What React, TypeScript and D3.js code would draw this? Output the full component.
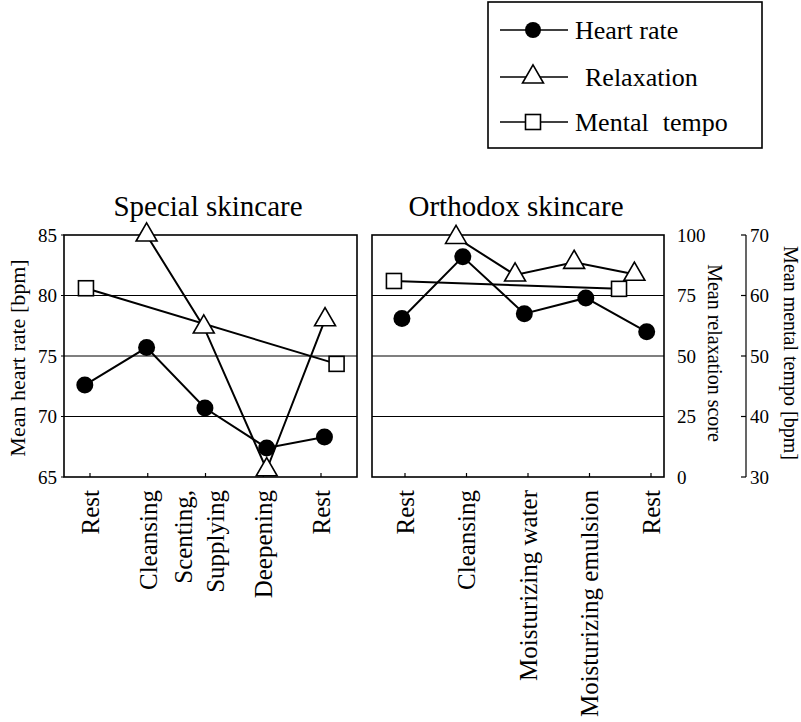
import { useRef, useEffect } from 'react';
import * as d3 from 'd3';

const specialSteps = ['Rest', 'Cleansing', 'Scenting,|Supplying', 'Deepening', 'Rest'];
const orthodoxSteps = ['Rest', 'Cleansing', 'Moisturizing water', 'Moisturizing emulsion', 'Rest'];

// heart rate [bpm], with step position (markers sit a little off the ticks)
const specialHeart = [72.6, 75.7, 70.7, 67.4, 68.3];
const specialHeartAt = [-0.09, 0.98, 1.99, 3.06, 4.06];
const orthodoxHeart = [78.1, 83.2, 78.5, 79.8, 77.0];
const orthodoxHeartAt = [-0.05, 0.94, 1.94, 2.94, 3.93];

// relaxation score
const specialRelax = [100, 62, 3, 65];
const specialRelaxAt = [0.98, 1.97, 3.06, 4.07];
const orthodoxRelax = [99, 83.5, 88.7, 83.8];
const orthodoxRelaxAt = [0.83, 1.79, 2.75, 3.73];

// mental tempo [bpm]
const specialTempo = [61.2, 48.7];
const specialTempoAt = [-0.07, 4.27];
const orthodoxTempo = [62.4, 61.1];
const orthodoxTempoAt = [-0.18, 3.48];

const heartTicks = [85, 80, 75, 70, 65];
const relaxTicks = [100, 75, 50, 25, 0];
const tempoTicks = [70, 60, 50, 40, 30];

const W = 801;
const H = 722;
const FONT = '"Liberation Serif", "Times New Roman", serif';

const App = () => {
    const svgRef = useRef<SVGSVGElement | null>(null);

    useEffect(() => {
        if (!svgRef.current) return;
        const svg = d3.select(svgRef.current)
            .attr('font-family', FONT);
        svg.selectAll('*').remove();

        const top = 235;
        const bottom = 477;

        const yHeart = d3.scaleLinear().domain([65, 85]).range([bottom, top]);
        const yRelax = d3.scaleLinear().domain([0, 100]).range([bottom, top]);
        const yTempo = d3.scaleLinear().domain([30, 70]).range([bottom, top]);

        const panels = [
            {
                title: 'Special skincare', titleX: 208, frame: [64, 357], ticks: [90, 321],
                steps: specialSteps,
                heart: specialHeart, heartAt: specialHeartAt,
                relax: specialRelax, relaxAt: specialRelaxAt,
                tempo: specialTempo, tempoAt: specialTempoAt,
                grid: [80, 75, 70].map(v => yHeart(v)),
            },
            {
                title: 'Orthodox skincare', titleX: 516, frame: [372, 664], ticks: [405, 651],
                steps: orthodoxSteps,
                heart: orthodoxHeart, heartAt: orthodoxHeartAt,
                relax: orthodoxRelax, relaxAt: orthodoxRelaxAt,
                tempo: orthodoxTempo, tempoAt: orthodoxTempoAt,
                grid: [75, 50, 25].map(v => yRelax(v)),
            },
        ];

        const triangle = d3.symbol().type(d3.symbolTriangle).size(190);

        panels.forEach(p => {
            const x = d3.scaleLinear().domain([0, 4]).range(p.ticks);
            const g = svg.append('g');

            // title
            g.append('text')
                .attr('x', p.titleX).attr('y', 216)
                .attr('text-anchor', 'middle')
                .style('font-size', '29px')
                .text(p.title);

            // gridlines
            g.selectAll('.grid')
                .data(p.grid)
                .join('line')
                .attr('x1', p.frame[0]).attr('x2', p.frame[1])
                .attr('y1', d => d).attr('y2', d => d)
                .attr('stroke', '#000').attr('stroke-width', 1.2);

            // frame
            g.append('rect')
                .attr('x', p.frame[0]).attr('y', top)
                .attr('width', p.frame[1] - p.frame[0]).attr('height', bottom - top)
                .attr('fill', 'none').attr('stroke', '#000').attr('stroke-width', 1.6);

            // ticks on the bottom edge, pointing inwards
            g.selectAll('.xtick')
                .data(p.steps)
                .join('line')
                .attr('x1', (_d, i) => x(i)).attr('x2', (_d, i) => x(i))
                .attr('y1', bottom).attr('y2', bottom - 4)
                .attr('stroke', '#000').attr('stroke-width', 1.2);

            // rotated category labels
            p.steps.forEach((s, i) => {
                const lines = s.split('|');
                const t = g.append('text')
                    .attr('transform', `translate(${x(i)},490) rotate(-90)`)
                    .attr('text-anchor', 'end')
                    .style('font-size', '25px');
                lines.forEach((ln, j) => {
                    t.append('tspan')
                        .attr('x', 0)
                        .attr('y', 0)
                        .attr('dy', `${0.35 + (j - (lines.length - 1) / 2) * 1.25 - 0.25 * (lines.length - 1)}em`)
                        .text(ln);
                });
            });

            const line = d3.line<[number, number]>().x(d => d[0]).y(d => d[1]);

            const tempoPts = p.tempo.map((v, i) => [x(p.tempoAt[i]), yTempo(v)] as [number, number]);
            const relaxPts = p.relax.map((v, i) => [x(p.relaxAt[i]), yRelax(v)] as [number, number]);
            const heartPts = p.heart.map((v, i) => [x(p.heartAt[i]), yHeart(v)] as [number, number]);

            [tempoPts, relaxPts, heartPts].forEach(pts => {
                g.append('path')
                    .attr('d', line(pts))
                    .attr('fill', 'none')
                    .attr('stroke', '#000')
                    .attr('stroke-width', 2);
            });

            g.selectAll('.heart')
                .data(heartPts)
                .join('circle')
                .attr('cx', d => d[0]).attr('cy', d => d[1])
                .attr('r', 8.5)
                .attr('fill', '#000');

            g.selectAll('.relax')
                .data(relaxPts)
                .join('path')
                .attr('d', triangle)
                .attr('transform', d => `translate(${d[0]},${d[1]})`)
                .attr('fill', '#fff').attr('stroke', '#000').attr('stroke-width', 1.6);

            g.selectAll('.tempo')
                .data(tempoPts)
                .join('rect')
                .attr('x', d => d[0] - 7.5).attr('y', d => d[1] - 7.5)
                .attr('width', 15).attr('height', 15)
                .attr('fill', '#fff').attr('stroke', '#000').attr('stroke-width', 1.6);
        });

        // left axis: heart rate
        const left = svg.append('g');
        left.selectAll('line')
            .data(heartTicks)
            .join('line')
            .attr('x1', 61).attr('x2', 64)
            .attr('y1', d => yHeart(d)).attr('y2', d => yHeart(d))
            .attr('stroke', '#000');
        left.selectAll('text')
            .data(heartTicks)
            .join('text')
            .attr('x', 57).attr('y', d => yHeart(d))
            .attr('dy', '0.35em')
            .attr('text-anchor', 'end')
            .style('font-size', '19px')
            .text(d => d);
        svg.append('text')
            .attr('transform', `translate(17,358) rotate(-90)`)
            .attr('dy', '0.35em')
            .attr('text-anchor', 'middle')
            .style('font-size', '22px')
            .text('Mean heart rate [bpm]');

        // right axis: relaxation score (labels only)
        svg.append('g').selectAll('text')
            .data(relaxTicks)
            .join('text')
            .attr('x', 677).attr('y', d => yRelax(d))
            .attr('dy', '0.35em')
            .style('font-size', '19px')
            .text(d => d);
        svg.append('text')
            .attr('transform', `translate(715,353) rotate(90)`)
            .attr('dy', '0.35em')
            .attr('text-anchor', 'middle')
            .style('font-size', '20px')
            .text('Mean relaxation score');

        // far right axis: mental tempo
        const tempoAxis = svg.append('g');
        tempoAxis.append('line')
            .attr('x1', 746).attr('x2', 746)
            .attr('y1', yTempo(70)).attr('y2', yTempo(30))
            .attr('stroke', '#000').attr('stroke-width', 1.2);
        tempoAxis.selectAll('.tk')
            .data(tempoTicks)
            .join('line')
            .attr('x1', 741).attr('x2', 746)
            .attr('y1', d => yTempo(d)).attr('y2', d => yTempo(d))
            .attr('stroke', '#000').attr('stroke-width', 1.2);
        tempoAxis.selectAll('text')
            .data(tempoTicks)
            .join('text')
            .attr('x', 750).attr('y', d => yTempo(d))
            .attr('dy', '0.35em')
            .style('font-size', '19px')
            .text(d => d);
        svg.append('text')
            .attr('transform', `translate(791,353) rotate(90)`)
            .attr('dy', '0.35em')
            .attr('text-anchor', 'middle')
            .style('font-size', '20px')
            .text('Mean mental tempo [bpm]');

        // legend
        const legend = svg.append('g');
        legend.append('rect')
            .attr('x', 488).attr('y', 2).attr('width', 274).attr('height', 146)
            .attr('fill', 'none').attr('stroke', '#000').attr('stroke-width', 1.6);
        const entries = [
            { name: 'Heart rate', y: 30, tx: 575, kind: 'circle' },
            { name: 'Relaxation', y: 77, tx: 585, kind: 'triangle' },
            { name: 'Mental|tempo', y: 122, tx: 575, kind: 'square' },
        ];
        entries.forEach(e => {
            legend.append('line')
                .attr('x1', 500).attr('x2', 568)
                .attr('y1', e.y).attr('y2', e.y)
                .attr('stroke', '#000').attr('stroke-width', 1.6);
            if (e.kind === 'circle') {
                legend.append('circle').attr('cx', 533).attr('cy', e.y).attr('r', 8).attr('fill', '#000');
            } else if (e.kind === 'triangle') {
                legend.append('path').attr('d', triangle)
                    .attr('transform', `translate(533,${e.y})`)
                    .attr('fill', '#fff').attr('stroke', '#000').attr('stroke-width', 1.6);
            } else {
                legend.append('rect').attr('x', 525.5).attr('y', e.y - 7.5)
                    .attr('width', 15).attr('height', 15)
                    .attr('fill', '#fff').attr('stroke', '#000').attr('stroke-width', 1.6);
            }
            const t = legend.append('text')
                .attr('x', e.tx).attr('y', e.y)
                .attr('dy', '0.33em')
                .style('font-size', '26px');
            e.name.split('|').forEach((w, j) => {
                t.append('tspan').attr('dx', j === 0 ? 0 : 14).text(w);
            });
        });
    }, []);

    return (
        <svg
            ref={svgRef}
            width={W}
            height={H}
            style={{ position: 'absolute', left: 0, top: 0, background: '#fff' }}
        />
    );
};

export default App;
